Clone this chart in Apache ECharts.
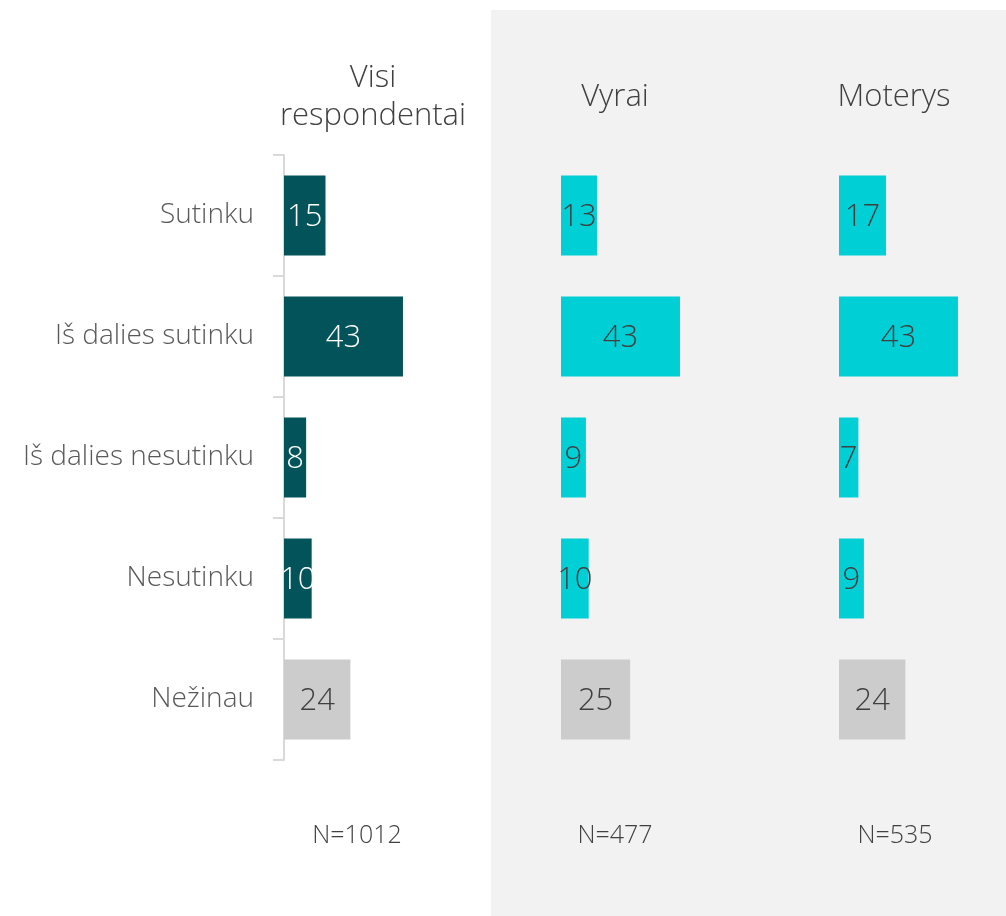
<!DOCTYPE html>
<html>
<head>
<meta charset="utf-8">
<script src="https://cdn.jsdelivr.net/npm/echarts@6/dist/echarts.min.js"></script>
<style>
  html, body { margin: 0; padding: 0; background: #fff; }
  #main { width: 1006px; height: 916px; }
</style>
</head>
<body>
<div id="main"></div>
<script>
// kategorijos ir reikšmės
const categories = ['Sutinku', 'Iš dalies sutinku', 'Iš dalies nesutinku', 'Nesutinku', 'Nežinau'];
const visi = [15, 43, 8, 10, 24];
const vyrai = [13, 43, 9, 10, 25];
const moterys = [17, 43, 7, 9, 24];
const groupTitles = ['Visi\nrespondentai', 'Vyrai', 'Moterys'];
const sampleSizes = ['N=1012', 'N=477', 'N=535'];

const FONT = '"Open Sans", "Segoe UI", sans-serif';
const chart = echarts.init(document.getElementById('main'), null, { renderer: 'canvas' });

// grupių padėtys (x pradžia)
const lefts = [284, 561, 839];
const centers = [373, 615, 894];
const mainColors = ['#02545a', '#00cfd5', '#00cfd5'];
const labelColors = ['#ffffff', '#404040', '#404040'];

function makeData(values, g) {
  return values.map((v, i) => {
    const last = i === values.length - 1;
    return {
      value: v,
      itemStyle: { color: last ? '#cccccc' : mainColors[g] },
      label: { color: last ? '#404040' : labelColors[g] }
    };
  });
}

const allSeries = [visi, vyrai, moterys];

const option = {
  backgroundColor: '#ffffff',
  animation: false,
  textStyle: { fontFamily: FONT },
  graphic: [
    {
      type: 'rect', z: -10, silent: true,
      shape: { x: 491, y: 10, width: 515, height: 906 },
      style: { fill: '#f2f2f2' }
    }
  ].concat(groupTitles.map((t, g) => ({
    type: 'text', z: 10,
    x: centers[g], y: 97,
    style: {
      text: t, textAlign: 'center', textVerticalAlign: 'middle',
      fill: '#404040', font: '300 31px ' + FONT, lineHeight: 38
    }
  }))).concat(sampleSizes.map((t, g) => ({
    type: 'text', z: 10,
    x: [357, 615, 895][g], y: 836,
    style: {
      text: t, textAlign: 'center', textVerticalAlign: 'middle',
      fill: '#404040', font: '300 25px ' + FONT
    }
  }))),
  grid: lefts.map(l => ({ left: l, top: 155, width: 166, height: 605 })),
  xAxis: lefts.map((l, g) => ({
    type: 'value', gridIndex: g, min: 0, max: 60, show: false
  })),
  yAxis: lefts.map((l, g) => ({
    type: 'category', gridIndex: g, data: categories, inverse: true,
    show: g === 0,
    axisLine: { show: true, lineStyle: { color: '#d9d9d9', width: 2 } },
    axisTick: { show: true, length: 11, lineStyle: { color: '#d9d9d9', width: 2 } },
    axisLabel: { color: '#595959', fontSize: 28, fontWeight: 300, fontFamily: FONT, margin: 30 }
  })),
  series: allSeries.map((vals, g) => ({
    type: 'bar',
    xAxisIndex: g, yAxisIndex: g,
    barCategoryGap: '34%',
    data: makeData(vals, g),
    label: {
      show: true, position: 'inside', offset: [0, 2],
      fontSize: 31, fontWeight: 300, fontFamily: FONT
    }
  }))
};

chart.setOption(option);
</script>
</body>
</html>
